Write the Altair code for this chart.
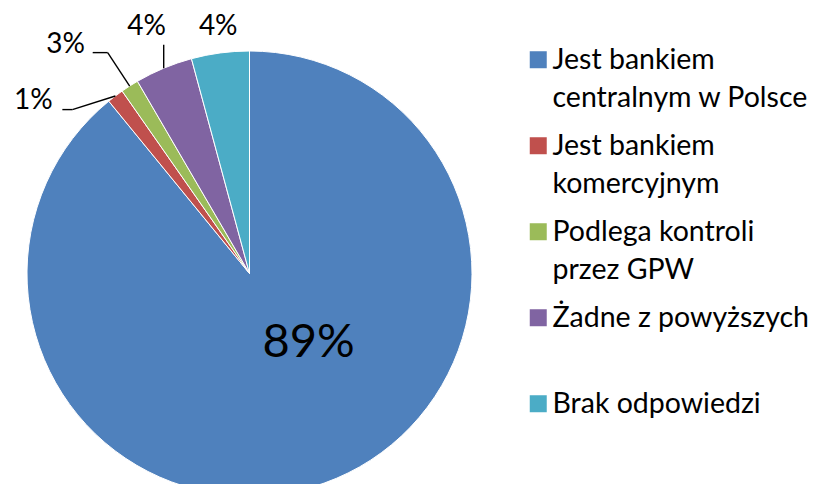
import json
import altair as alt
import pandas as pd

# ---- data ----
categories = [
    "Jest bankiem centralnym w Polsce",
    "Jest bankiem komercyjnym",
    "Podlega kontroli przez GPW",
    "Żadne z powyższych",
    "Brak odpowiedzi",
]
shares = [89.1, 1.2, 1.3, 4.2, 4.2]
labels = ["89%", "1%", "3%", "4%", "4%"]
colors = ["#4F81BD", "#C0504D", "#9BBB59", "#8064A2", "#4BACC6"]
legend_lines = {
    categories[0]: ["Jest bankiem", "centralnym w Polsce"],
    categories[1]: ["Jest bankiem", "komercyjnym"],
    categories[2]: ["Podlega kontroli", "przez GPW"],
    categories[3]: ["Żadne z powyższych", ""],
    categories[4]: ["Brak odpowiedzi"],
}
title_text = "Narodowy Bank Polski (%)"

df = pd.DataFrame({
    "category": categories,
    "share": shares,
    "label": labels,
    "order": list(range(len(categories))),
})

# ---- layout / style ----
CX, CY, R = 241.5, 265.5, 222.5
FONT = "Lato"
# label placement: (radius, dx, dy, font size) relative to slice mid-angle
LABEL_STYLE = {
    categories[0]: (0, 59, 69, 47),
    categories[1]: (R, -82, 5, 28),
    categories[2]: (R, -64, -41.5, 28),
    categories[3]: (R, -17, -41.5, 28),
    categories[4]: (R, -2, -25.5, 28),
}
# leader lines: list of (start offset, end offset) relative to slice edge point
LEADERS = {
    categories[1]: [((0, 0), (-43, 13.6)), ((-43, 13.6), (-53, 13.6))],
    categories[2]: [((0, 0), (-22, -33.4)), ((-22, -33.4), (-37, -33.4))],
    categories[3]: [((0, 0), (0, -23.5))],
}

base = (
    alt.Chart(df)
    .transform_joinaggregate(total="sum(share)")
    .transform_window(cum="sum(share)", sort=[alt.SortField("order", order="ascending")])
    .transform_calculate(
        a1="2*PI*datum.cum/datum.total",
        a0="2*PI*(datum.cum-datum.share)/datum.total",
    )
    .transform_calculate(mid="(datum.a0+datum.a1)/2")
    .transform_calculate(
        ex=f"{CX}+{R}*sin(datum.mid)",
        ey=f"{CY}-{R}*cos(datum.mid)",
    )
)

symbol_path = "M-1,-2.06H1V-0.06H-1Z"
label_expr = f"split({json.dumps({k: chr(10).join(v) for k, v in legend_lines.items()}, ensure_ascii=False)}[datum.label], '\\n')"

arcs = base.mark_arc(radius=R, stroke="white", strokeWidth=1).encode(
    theta=alt.Theta("a0:Q", scale=None, stack=None),
    theta2=alt.Theta2("a1:Q"),
    color=alt.Color(
        "category:N",
        scale=alt.Scale(domain=categories, range=colors),
        legend=alt.Legend(
            orient="none",
            legendX=516,
            legendY=46.5,
            title=None,
            padding=0,
            symbolType=symbol_path,
            symbolSize=289,
            symbolStrokeWidth=0,
            labelFont=FONT,
            labelFontSize=28.5,
            labelColor="black",
            labelLimit=400,
            labelOffset=0,
            labelBaseline="alphabetic",
            labelExpr=label_expr,
            rowPadding=19,
        ),
    ),
    x=alt.value(CX),
    y=alt.value(CY),
)

layers = [arcs]

for cat in categories:
    r, dx, dy, fs = LABEL_STYLE[cat]
    layers.append(
        base.transform_filter(alt.datum.category == cat)
        .mark_text(radius=r, dx=dx, dy=dy, font=FONT, fontSize=fs, color="black",
                   align="center", baseline="middle")
        .encode(
            theta=alt.Theta("mid:Q", scale=None, stack=None),
            text="label:N",
            x=alt.value(CX),
            y=alt.value(CY),
        )
    )

for cat, segs in LEADERS.items():
    for (sx, sy), (tx, ty) in segs:
        layers.append(
            base.transform_filter(alt.datum.category == cat)
            .transform_calculate(
                lx1=f"datum.ex+({sx})", ly1=f"datum.ey+({sy})",
                lx2=f"datum.ex+({tx})", ly2=f"datum.ey+({ty})",
            )
            .mark_rule(color="black", strokeWidth=1.4)
            .encode(
                x=alt.X("lx1:Q", scale=None),
                y=alt.Y("ly1:Q", scale=None),
                x2="lx2:Q",
                y2="ly2:Q",
            )
        )

chart = (
    alt.layer(*layers)
    .properties(
        width=804,
        height=476,
        padding=0,
        autosize=alt.AutoSizeParams(type="none"),
        title=alt.TitleParams(
            text=title_text, anchor="end", dx=-142, offset=0, baseline="alphabetic",
            font=FONT, fontSize=33, fontWeight="bold", color="#243F8F",
        ),
    )
    .configure(style={"guide-label": {"lineHeight": 38}})
    .configure_view(stroke=None)
)

chart.save("out.html", embed_options={"renderer": "svg", "actions": False})
